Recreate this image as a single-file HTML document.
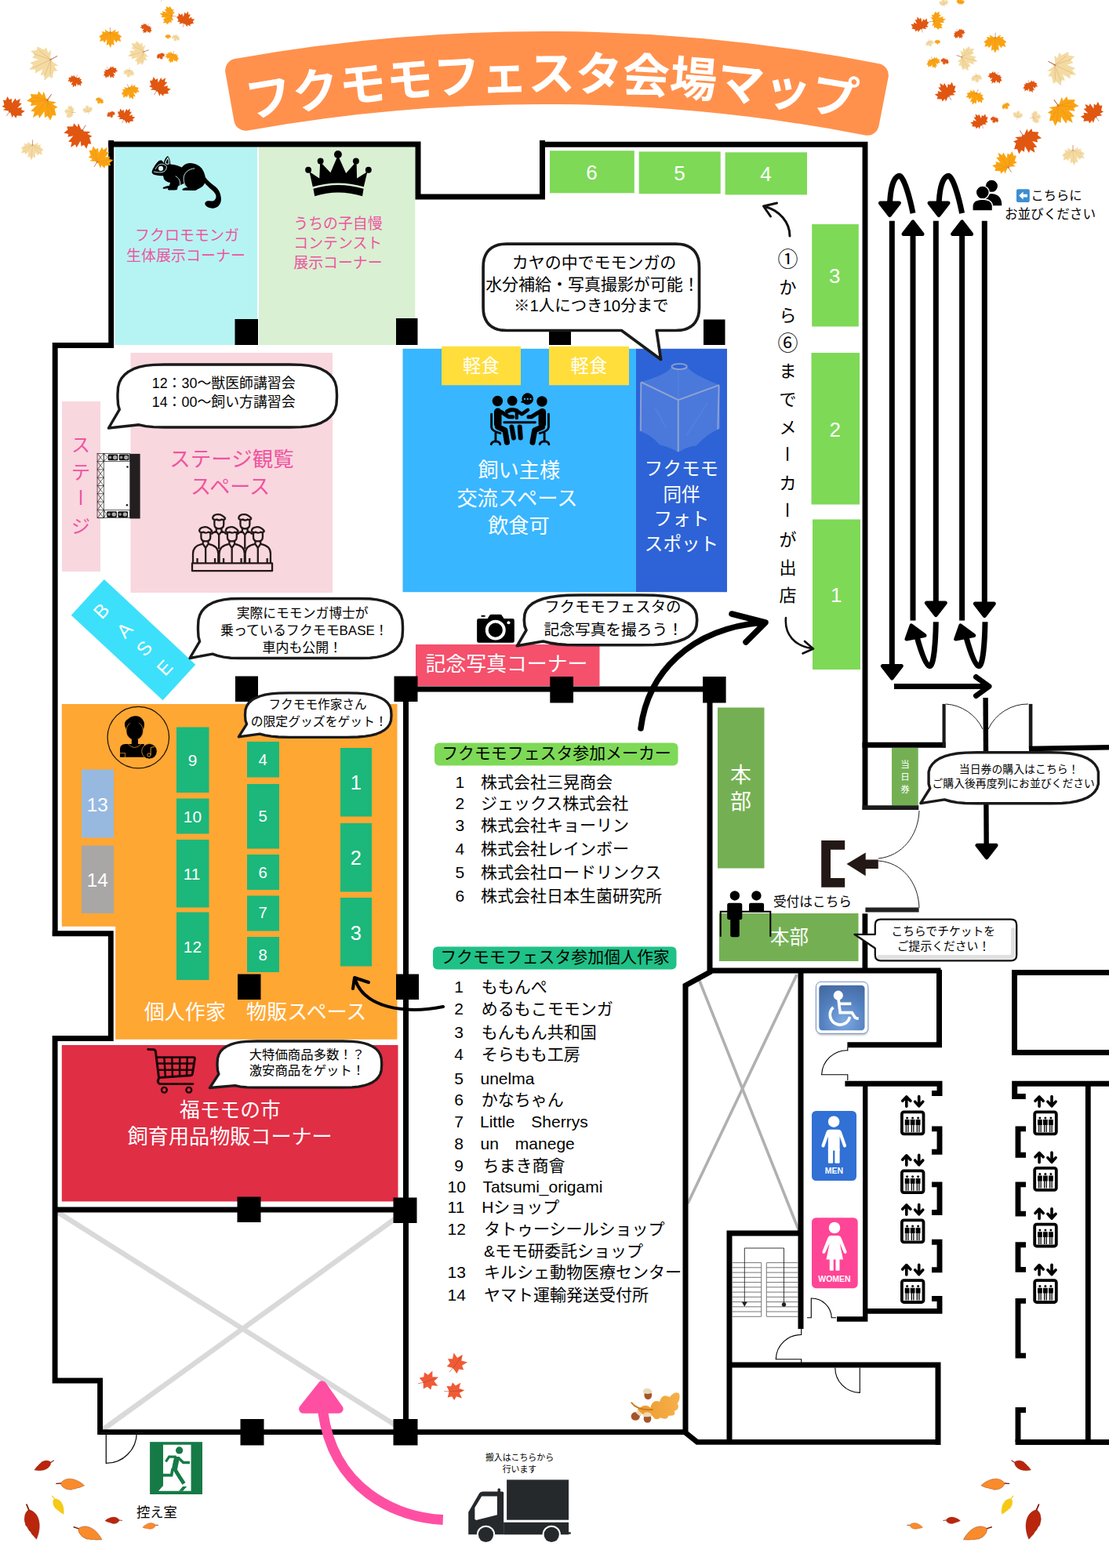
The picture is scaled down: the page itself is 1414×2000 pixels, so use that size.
<!DOCTYPE html>
<html lang="ja"><head><meta charset="utf-8"><title>フクモモフェスタ会場マップ</title>
<style>
html,body{margin:0;padding:0;background:#fff;font-family:"Liberation Sans","Noto Sans CJK JP",sans-serif;}
svg{display:block}
svg text{font-family:"Liberation Sans","Noto Sans CJK JP",sans-serif;}
</style></head><body>
<svg width="1414" height="2000" viewBox="0 0 1414 2000">
<rect width="1414" height="2000" fill="#fff"/><path transform="rotate(0.35 707 88)" d="M302.16 92.22 A2220 2220 0 0 1 1117.92 93.36 L1106.26 155.27 A2157 2157 0 0 0 313.65 154.17 Z" fill="#ff914d" stroke="#ff914d" stroke-width="30" stroke-linejoin="round"/><rect x="146.5" y="187" width="181.5" height="253" fill="#b6f4f4"/><rect x="330" y="187" width="199.3" height="253" fill="#d9f0d3"/><rect x="79" y="512" width="49" height="217" fill="#f9d7df"/><rect x="166.5" y="450" width="257.5" height="306" fill="#f9d7df"/><rect x="513.5" y="444.8" width="297.5" height="310.4" fill="#38b6ff"/><rect x="811" y="444.8" width="116" height="310.4" fill="#2d63d6"/><rect x="563" y="441.8" width="101" height="49.5" fill="#ffde3b"/><rect x="700" y="441.8" width="102" height="49.5" fill="#ffde3b"/><polygon points="132.8,738.9 249.3,847.7 207.6,893.2 90.8,784.7" fill="#3ce0fa"/><rect x="530" y="822" width="234.5" height="53" fill="#f5506c"/><path d="M78.8 898H506.5V1325.8H147.2V1181.7H78.8Z" fill="#ffa733"/><rect x="78.8" y="1333" width="428.7" height="199.5" fill="#e02e44"/><rect x="225" y="927.5" width="41.5" height="83.5" fill="#1cb77b"/><rect x="225" y="1018.5" width="41.5" height="45" fill="#1cb77b"/><rect x="225" y="1071" width="41.5" height="86.5" fill="#1cb77b"/><rect x="225" y="1163.5" width="41.5" height="86.5" fill="#1cb77b"/><rect x="315" y="946" width="41" height="45.5" fill="#1cb77b"/><rect x="315" y="1000" width="41" height="82.5" fill="#1cb77b"/><rect x="315" y="1090" width="41" height="45" fill="#1cb77b"/><rect x="315" y="1142.5" width="41" height="45" fill="#1cb77b"/><rect x="315" y="1195" width="41" height="45" fill="#1cb77b"/><rect x="434" y="954" width="40" height="87.5" fill="#1cb77b"/><rect x="434" y="1050" width="40" height="87.5" fill="#1cb77b"/><rect x="434" y="1145" width="40" height="87.5" fill="#1cb77b"/><rect x="104" y="981.5" width="41" height="87" fill="#97b9df"/><rect x="104" y="1078.5" width="41" height="86.5" fill="#a9a6a6"/><rect x="701" y="192.2" width="107.8" height="54.1" fill="#7ed957"/><rect x="814.7" y="193.4" width="104" height="53.8" fill="#7ed957"/><rect x="924.6" y="194.3" width="104.4" height="54.1" fill="#7ed957"/><rect x="1035.2" y="286" width="59.6" height="130.5" fill="#7ed957"/><rect x="1034.5" y="450" width="61.5" height="193.5" fill="#7ed957"/><rect x="1036" y="662.5" width="61" height="191.5" fill="#7ed957"/><rect x="915" y="902.5" width="59.5" height="205" fill="#74b053"/><rect x="917" y="1165" width="177.5" height="61" fill="#74b053"/><rect x="1137" y="953.8" width="33.7" height="73.5" fill="#74b053"/><rect x="554" y="947.5" width="310.5" height="29" rx="6" fill="#7ed957"/><rect x="552" y="1207.5" width="310.5" height="29" rx="6" fill="#1fc187"/><path d="M74 1546.5 L514 1824" fill="none" stroke="#d9d9d9" stroke-width="6.5" stroke-linecap="butt" stroke-linejoin="miter"/><path d="M514 1547 L131 1823.5" fill="none" stroke="#d9d9d9" stroke-width="6.5" stroke-linecap="butt" stroke-linejoin="miter"/><path d="M889.5 1245 L1019.5 1572" fill="none" stroke="#b0b0b0" stroke-width="3.6" stroke-linecap="butt" stroke-linejoin="miter"/><path d="M1016 1243 L877 1535" fill="none" stroke="#b0b0b0" stroke-width="3.6" stroke-linecap="butt" stroke-linejoin="miter"/><path d="M70.2 1194 L70.2 440.5 L141.7 440.5 L141.7 179" fill="none" stroke="#000" stroke-width="6.9" stroke-linecap="butt" stroke-linejoin="miter"/><path d="M138.3 184 L533 184 L533 251 L691.5 251 L691.5 179" fill="none" stroke="#000" stroke-width="7" stroke-linecap="butt" stroke-linejoin="miter"/><path d="M688 184.2 L1103 184.2 L1103 1033" fill="none" stroke="#000" stroke-width="6.9" stroke-linecap="butt" stroke-linejoin="miter"/><path d="M66.8 1190.7 L141.3 1190.7 L141.3 1324.5 L70.1 1324.5 L70.1 1761 L127.6 1761 L127.6 1826.6 L873 1826.6 L889 1839.4 L1197 1839.4" fill="none" stroke="#000" stroke-width="6.9" stroke-linecap="butt" stroke-linejoin="miter"/><path d="M73 1543 L517 1543" fill="none" stroke="#000" stroke-width="6.9" stroke-linecap="butt" stroke-linejoin="miter"/><path d="M517.5 880 L517.5 1827" fill="none" stroke="#000" stroke-width="7" stroke-linecap="butt" stroke-linejoin="miter"/><path d="M517 879 L905 879" fill="none" stroke="#000" stroke-width="7" stroke-linecap="butt" stroke-linejoin="miter"/><path d="M905 879 L905 1240 L874 1257 L874 1830" fill="none" stroke="#000" stroke-width="7" stroke-linecap="butt" stroke-linejoin="miter"/><path d="M903 1238 L1199.5 1238" fill="none" stroke="#000" stroke-width="7.2" stroke-linecap="butt" stroke-linejoin="miter"/><path d="M1099.5 950.3 L1205.7 950.3" fill="none" stroke="#000" stroke-width="6.9" stroke-linecap="butt" stroke-linejoin="miter"/><path d="M1203.6 897.9 L1203.6 953.8" fill="none" stroke="#1a1a1a" stroke-width="4.2" stroke-linecap="butt" stroke-linejoin="miter"/><path d="M1314.1 897.9 L1314.1 955.6" fill="none" stroke="#1a1a1a" stroke-width="4.6" stroke-linecap="butt" stroke-linejoin="miter"/><path d="M1312 955 L1414 953.2" fill="none" stroke="#000" stroke-width="6.6" stroke-linecap="butt" stroke-linejoin="miter"/><path d="M1099.5 1030.2 L1171.3 1030.2" fill="none" stroke="#1c1c1c" stroke-width="5.8" stroke-linecap="butt" stroke-linejoin="miter"/><path d="M1103.4 1160.6 L1171.6 1160.6" fill="none" stroke="#222" stroke-width="6" stroke-linecap="butt" stroke-linejoin="miter"/><path d="M1102.9 1165.3 L1102.9 1240" fill="none" stroke="#000" stroke-width="6.8" stroke-linecap="butt" stroke-linejoin="miter"/><path d="M1021 1240 L1021 1695" fill="none" stroke="#000" stroke-width="7" stroke-linecap="butt" stroke-linejoin="miter"/><path d="M1197.5 1237 L1197.5 1332.8 L1080.4 1332.8" fill="none" stroke="#000" stroke-width="7" stroke-linecap="butt" stroke-linejoin="miter"/><path d="M1077.4 1382.3 L1198 1382.3 L1198 1394.5 L1188 1394.5" fill="none" stroke="#000" stroke-width="7" stroke-linecap="butt" stroke-linejoin="miter"/><path d="M1103.2 1382 L1103.2 1682.5 L1067 1682.5" fill="none" stroke="#000" stroke-width="6.4" stroke-linecap="butt" stroke-linejoin="miter"/><path d="M1103 1672.4 L1198 1672.4 L1198 1656.5 L1188 1656.5" fill="none" stroke="#000" stroke-width="6.9" stroke-linecap="butt" stroke-linejoin="miter"/><path d="M1188 1439.9 L1198 1439.9 L1198 1469.3 L1188 1469.3" fill="none" stroke="#000" stroke-width="6.9" stroke-linecap="butt" stroke-linejoin="miter"/><path d="M1188 1510.9 L1198 1510.9 L1198 1546.5 L1188 1546.5" fill="none" stroke="#000" stroke-width="6.9" stroke-linecap="butt" stroke-linejoin="miter"/><path d="M1188 1584.2 L1198 1584.2 L1198 1619.8 L1188 1619.8" fill="none" stroke="#000" stroke-width="6.9" stroke-linecap="butt" stroke-linejoin="miter"/><path d="M1414 1382.3 L1293.7 1382.3 L1293.7 1398.6 L1307.8 1398.6" fill="none" stroke="#000" stroke-width="7" stroke-linecap="butt" stroke-linejoin="miter"/><path d="M1308 1439.9 L1298 1439.9 L1298 1473.2 L1308 1473.2" fill="none" stroke="#000" stroke-width="6.9" stroke-linecap="butt" stroke-linejoin="miter"/><path d="M1308 1510.9 L1298 1510.9 L1298 1548.1 L1308 1548.1" fill="none" stroke="#000" stroke-width="6.9" stroke-linecap="butt" stroke-linejoin="miter"/><path d="M1308 1587.7 L1298 1587.7 L1298 1619.4 L1308 1619.4" fill="none" stroke="#000" stroke-width="6.9" stroke-linecap="butt" stroke-linejoin="miter"/><path d="M1308 1659.4 L1298 1659.4 L1298 1729.1 L1308 1729.1" fill="none" stroke="#000" stroke-width="6.9" stroke-linecap="butt" stroke-linejoin="miter"/><path d="M1308 1798.5 L1298 1798.5 L1298 1839.5" fill="none" stroke="#000" stroke-width="6.9" stroke-linecap="butt" stroke-linejoin="miter"/><path d="M1294.6 1839.5 L1414 1839.5" fill="none" stroke="#000" stroke-width="7" stroke-linecap="butt" stroke-linejoin="miter"/><path d="M1387.3 1382 L1387.3 1843" fill="none" stroke="#000" stroke-width="6.8" stroke-linecap="butt" stroke-linejoin="miter"/><path d="M1414 1240.5 L1293.5 1240.5 L1293.5 1342.5 L1414 1342.5" fill="none" stroke="#000" stroke-width="7" stroke-linecap="butt" stroke-linejoin="miter"/><path d="M1021 1573 L930 1573 L930 1839.5" fill="none" stroke="#000" stroke-width="7" stroke-linecap="butt" stroke-linejoin="miter"/><path d="M927 1741 L1196 1741 L1196 1843" fill="none" stroke="#000" stroke-width="7" stroke-linecap="butt" stroke-linejoin="miter"/><path d="M1137.3 281.7 L1137.3 850" fill="none" stroke="#000" stroke-width="7" stroke-linecap="butt" stroke-linejoin="miter"/><path d="M1125.3 849.5L1149.3 849.5L1137.3 865Z" fill="#000" stroke="#000" stroke-width="5" stroke-linejoin="round"/><path d="M1164 295 L1164 791.5" fill="none" stroke="#000" stroke-width="7" stroke-linecap="butt" stroke-linejoin="miter"/><path d="M1152 298.5L1176 298.5L1164 283Z" fill="#000" stroke="#000" stroke-width="5" stroke-linejoin="round"/><path d="M1193.3 281.7 L1193.3 770" fill="none" stroke="#000" stroke-width="7" stroke-linecap="butt" stroke-linejoin="miter"/><path d="M1181.3 769L1205.3 769L1193.3 784.5Z" fill="#000" stroke="#000" stroke-width="5" stroke-linejoin="round"/><path d="M1226.6 295 L1226.6 791.5" fill="none" stroke="#000" stroke-width="7" stroke-linecap="butt" stroke-linejoin="miter"/><path d="M1214.6 298.5L1238.6 298.5L1226.6 283Z" fill="#000" stroke="#000" stroke-width="5" stroke-linejoin="round"/><path d="M1255.3 281.7 L1255.3 770" fill="none" stroke="#000" stroke-width="7" stroke-linecap="butt" stroke-linejoin="miter"/><path d="M1243.3 770L1267.3 770L1255.3 785.5Z" fill="#000" stroke="#000" stroke-width="5" stroke-linejoin="round"/><path d="M1164 272 C1160 252 1152 222 1145.5 224.5 C1139 227 1135.5 240 1134.6 258" fill="none" stroke="#000" stroke-width="7"/><path d="M1122.4 259L1146.4 259L1134.4 274.5Z" fill="#000" stroke="#000" stroke-width="5" stroke-linejoin="round"/><path d="M1226.6 272 C1222.6 252 1214.6 222 1208.1 224.5 C1201.6 227 1198.1 240 1197.2 258" fill="none" stroke="#000" stroke-width="7"/><path d="M1185 259L1209 259L1197 274.5Z" fill="#000" stroke="#000" stroke-width="5" stroke-linejoin="round"/><path d="M1193.3 793.3 C1193 815 1191 851 1185 849.5 C1180 848 1174 830 1169 812" fill="none" stroke="#000" stroke-width="7"/><path d="M1162 798L1156 815L1179 810.5Z" fill="#000" stroke="#000" stroke-width="5" stroke-linejoin="round"/><path d="M1256 793.3 C1255.7 815 1253.7 851 1247.7 849.5 C1242.7 848 1236.7 830 1231.7 812" fill="none" stroke="#000" stroke-width="7"/><path d="M1224.7 798L1218.7 815L1241.7 810.5Z" fill="#000" stroke="#000" stroke-width="5" stroke-linejoin="round"/><path d="M1140 875.5H1260" fill="none" stroke="#000" stroke-width="7"/><path d="M1244.5 863.5L1261 875.5L1244.5 887.5" fill="none" stroke="#000" stroke-width="7" stroke-linecap="round" stroke-linejoin="round"/><path d="M1256.6 890 L1257.7 1080" fill="none" stroke="#000" stroke-width="6.4" stroke-linecap="butt" stroke-linejoin="miter"/><path d="M1246 1078.3L1270 1078.3L1258 1093.8Z" fill="#000" stroke="#000" stroke-width="5" stroke-linejoin="round"/><path d="M1206 898A56 56 0 0 1 1253 930" fill="none" stroke="#222" stroke-width="1"/><path d="M1311 898A56 56 0 0 0 1260 930" fill="none" stroke="#222" stroke-width="1"/><path d="M817 929C826 858 880 802 972 794M933 783L976 794L951 819" fill="none" stroke="#000" stroke-width="7.5" stroke-linecap="round" stroke-linejoin="round"/><path d="M1007 301C1007 284 994 268 975 263.5M990.5 259L973.5 263L982.5 276" fill="none" stroke="#111" stroke-width="3" stroke-linecap="round" stroke-linejoin="round"/><path d="M1002 788C1000 810 1014 824 1035 827M1026 818L1037 827.5L1023.5 833.5" fill="none" stroke="#111" stroke-width="2.6" stroke-linecap="round" stroke-linejoin="round"/><path d="M565 1284C515 1294 465 1285 453 1250M450 1261L452 1247L470 1253" fill="none" stroke="#000" stroke-width="4" stroke-linecap="round" stroke-linejoin="round"/><path d="M564.8 1938.4C505 1936 425 1900 411.6 1800" fill="none" stroke="#ff4fa3" stroke-width="13"/><path d="M410.7 1766.8L386.6 1797.2L432.2 1797.2Z" fill="#ff4fa3" stroke="#ff4fa3" stroke-width="11" stroke-linejoin="round"/><path d="M1077.2 1077.9H1053.1V1125.8H1077.2" fill="none" stroke="#231815" stroke-width="11.8"/><path d="M1079.5 1102L1103.7 1087.4V1096.5H1119.8V1108H1103.7V1117.2Z" fill="#231815"/><path d="M1172 1034C1171 1066 1150 1092 1120 1095" fill="none" stroke="#222" stroke-width="1"/><path d="M1120 1098C1150 1100 1171 1125 1172 1158" fill="none" stroke="#222" stroke-width="1"/><rect x="299.5" y="407" width="29.5" height="33" fill="#000"/><rect x="505" y="406" width="27.5" height="34" fill="#000"/><rect x="700" y="421" width="28" height="19" fill="#000"/><rect x="897" y="407.5" width="27.5" height="32.5" fill="#000"/><rect x="300" y="862.5" width="29" height="32.5" fill="#000"/><rect x="502.5" y="862.5" width="30" height="32.5" fill="#000"/><rect x="701.3" y="863" width="29.7" height="33.5" fill="#000"/><rect x="896.1" y="863" width="29.5" height="33.5" fill="#000"/><rect x="303" y="1242.5" width="29.5" height="32.5" fill="#000"/><rect x="505" y="1242.5" width="29" height="32.5" fill="#000"/><rect x="302.5" y="1526.5" width="30" height="32.5" fill="#000"/><rect x="501.5" y="1527.5" width="30" height="32.5" fill="#000"/><rect x="306.5" y="1810" width="30" height="33.5" fill="#000"/><rect x="501.5" y="1810" width="31" height="33.5" fill="#000"/><path d="M152.3 522.4L150.6 516.1L150.0 507.0L150.0 503.0L150.6 493.9L152.3 487.6L155.1 482.3L159.0 477.8L164.0 473.9L170.1 470.7L177.3 468.2L185.7 466.4L195.6 465.4L210.0 465.0L369.5 465.0L383.9 465.4L393.8 466.4L402.2 468.2L409.4 470.7L415.5 473.9L420.5 477.8L424.4 482.3L427.2 487.6L428.9 493.9L429.5 503.0L429.5 507.0L428.9 516.1L427.2 522.4L424.4 527.7L420.5 532.2L415.5 536.1L409.4 539.3L402.2 541.8L393.8 543.6L383.9 544.6L369.5 545.0L210.0 545.0L195.6 544.6L185.7 543.6L177.3 541.8L138.5 546.0Z" fill="#fff" stroke="#1a1a1a" stroke-width="3.4" stroke-linejoin="round"/><path d="M254.6 818.1L253.0 812.1L252.5 803.5L252.5 799.5L253.0 790.9L254.6 784.9L257.2 779.9L260.8 775.6L265.4 771.9L271.0 768.9L277.5 766.6L285.2 764.9L294.3 763.8L307.5 763.5L458.5 763.5L471.7 763.8L480.8 764.9L488.5 766.6L495.0 768.9L500.6 771.9L505.2 775.6L508.8 779.9L511.4 784.9L513.0 790.9L513.5 799.5L513.5 803.5L513.0 812.1L511.4 818.1L508.8 823.1L505.2 827.4L500.6 831.1L495.0 834.1L488.5 836.4L480.8 838.1L471.7 839.2L458.5 839.5L307.5 839.5L294.3 839.2L285.2 838.1L277.5 836.4L271.0 834.1L242.0 839.5Z" fill="#fff" stroke="#1a1a1a" stroke-width="3.4" stroke-linejoin="round"/><path d="M792.4 421.5L646.1 421.5L639.7 421.2L634.8 420.3L630.6 418.7L626.8 416.6L623.6 414.0L621.0 410.8L618.9 407.0L617.3 402.8L616.4 397.9L616.1 391.5L616.1 341.2L616.4 334.8L617.3 329.9L618.9 325.7L621.0 321.9L623.6 318.7L626.8 316.1L630.6 314.0L634.8 312.4L639.7 311.5L646.1 311.2L861.5 311.2L867.9 311.5L872.8 312.4L877.0 314.0L880.8 316.1L884.0 318.7L886.6 321.9L888.7 325.7L890.3 329.9L891.2 334.8L891.5 341.2L891.5 391.5L891.2 397.9L890.3 402.8L888.7 407.0L886.6 410.8L884.0 414.0L880.8 416.6L877.0 418.7L872.8 420.3L867.9 421.2L861.5 421.5L837.1 421.5L842.6 458.5Z" fill="#fff" stroke="#1a1a1a" stroke-width="3.7" stroke-linejoin="round"/><path d="M671.0 803.8L669.0 798.5L668.3 790.8L668.3 791.0L669.0 783.3L671.0 778.0L674.4 773.6L679.1 769.7L685.1 766.5L692.5 763.8L701.1 761.7L711.1 760.2L723.0 759.3L740.3 759.0L816.7 759.0L834.0 759.3L845.9 760.2L855.9 761.7L864.5 763.8L871.9 766.5L877.9 769.7L882.6 773.6L886.0 778.0L888.0 783.3L888.7 791.0L888.7 790.8L888.0 798.5L886.0 803.8L882.6 808.2L877.9 812.1L871.9 815.3L864.5 818.0L855.9 820.1L845.9 821.6L834.0 822.5L816.7 822.8L740.3 822.8L723.0 822.5L711.1 821.6L701.1 820.1L692.5 818.0L659.3 823.8Z" fill="#fff" stroke="#1a1a1a" stroke-width="3.6" stroke-linejoin="round"/><path d="M314.6 923.6L313.0 919.0L312.5 912.3L312.5 911.8L313.0 905.1L314.6 900.5L317.3 896.5L320.9 893.2L325.6 890.4L331.3 888.0L338.0 886.2L345.8 884.9L355.1 884.1L368.5 883.8L443.0 883.8L456.4 884.1L465.7 884.9L473.5 886.2L480.2 888.0L485.9 890.4L490.6 893.2L494.2 896.5L496.9 900.5L498.5 905.1L499.0 911.8L499.0 912.3L498.5 919.0L496.9 923.6L494.2 927.6L490.6 930.9L485.9 933.7L480.2 936.1L473.5 937.9L465.7 939.2L456.4 940.0L443.0 940.3L368.5 940.3L355.1 940.0L345.8 939.2L338.0 937.9L331.3 936.1L304.3 939.8Z" fill="#fff" stroke="#1a1a1a" stroke-width="3.3" stroke-linejoin="round"/><path d="M278.9 1370.0L277.5 1365.2L277.0 1358.2L277.0 1357.0L277.5 1350.0L278.9 1345.2L281.2 1341.2L284.5 1337.7L288.7 1334.8L293.8 1332.4L299.8 1330.5L306.7 1329.1L315.0 1328.3L327.0 1328.0L436.7 1328.0L448.7 1328.3L457.0 1329.1L463.9 1330.5L469.9 1332.4L475.0 1334.8L479.2 1337.7L482.5 1341.2L484.8 1345.2L486.2 1350.0L486.7 1357.0L486.7 1358.2L486.2 1365.2L484.8 1370.0L482.5 1374.0L479.2 1377.5L475.0 1380.4L469.9 1382.8L463.9 1384.7L457.0 1386.1L448.7 1386.9L436.7 1387.2L327.0 1387.2L315.0 1386.9L306.7 1386.1L299.8 1384.7L267.5 1387.5Z" fill="#fff" stroke="#1a1a1a" stroke-width="3.3" stroke-linejoin="round"/><path d="M1185.8 1005.5L1184.1 1000.1L1184.1 984.5L1185.8 979.1L1188.8 974.6L1192.8 970.7L1198.0 967.4L1204.3 964.7L1211.7 962.6L1220.4 961.0L1230.6 960.1L1245.5 959.8L1339.0 959.8L1353.9 960.1L1364.1 961.0L1372.8 962.6L1380.2 964.7L1386.5 967.4L1391.7 970.7L1395.7 974.6L1398.7 979.1L1400.4 984.5L1400.4 1000.1L1398.7 1005.5L1395.7 1010.0L1391.7 1013.9L1386.5 1017.2L1380.2 1019.9L1372.8 1022.0L1364.1 1023.6L1353.9 1024.5L1339.0 1024.8L1245.5 1024.8L1230.6 1024.5L1220.4 1023.6L1211.7 1022.0L1204.3 1019.9L1173.8 1024.6Z" fill="#fff" stroke="#1a1a1a" stroke-width="3.4" stroke-linejoin="round"/><path d="M1123 1172.7H1289Q1296.2 1172.7 1296.2 1180V1218Q1296.2 1225.4 1289 1225.4H1123Q1115.8 1225.4 1115.8 1218V1209.5L1089.5 1191.8H1115.8V1180Q1115.8 1172.7 1123 1172.7Z" fill="#fff"/><path d="M1121 1220.8H1287Q1291.8 1220.8 1291.8 1216V1186" fill="none" stroke="#e1e1e1" stroke-width="5.5" stroke-linecap="round"/><path d="M1123 1172.7H1289Q1296.2 1172.7 1296.2 1180V1218Q1296.2 1225.4 1289 1225.4H1123Q1115.8 1225.4 1115.8 1218V1209.5L1089.5 1191.8H1115.8V1180Q1115.8 1172.7 1123 1172.7Z" fill="none" stroke="#111" stroke-width="2.3" stroke-linejoin="round"/><g fill="#fff" font-size="60" font-weight="bold" text-anchor="middle"><text transform="translate(342.51,123.15) rotate(-9.61)" x="0" y="22.8">フ</text><text transform="translate(402.19,113.89) rotate(-8.03)" x="0" y="22.8">ク</text><text transform="translate(462.11,106.28) rotate(-6.44)" x="0" y="22.8">モ</text><text transform="translate(522.21,100.34) rotate(-4.86)" x="0" y="22.8">モ</text><text transform="translate(582.46,96.06) rotate(-3.27)" x="0" y="22.8">フ</text><text transform="translate(642.8,93.44) rotate(-1.69)" x="0" y="22.8">ェ</text><text transform="translate(703.19,92.5) rotate(-0.1)" x="0" y="22.8">ス</text><text transform="translate(763.58,93.23) rotate(1.49)" x="0" y="22.8">タ</text><text transform="translate(823.93,95.63) rotate(3.07)" x="0" y="22.8">会</text><text transform="translate(884.2,99.71) rotate(4.66)" x="0" y="22.8">場</text><text transform="translate(944.32,105.44) rotate(6.24)" x="0" y="22.8">マ</text><text transform="translate(1004.26,112.84) rotate(7.83)" x="0" y="22.8">ッ</text><text transform="translate(1063.98,121.89) rotate(9.41)" x="0" y="22.8">プ</text></g><text x="172" y="306.53" font-size="19" fill="#ee559f">フクロモモンガ</text><text x="161" y="333.03" font-size="19" fill="#ee559f">生体展示コーナー</text><text x="374.3" y="292.49" font-size="18.9" fill="#ee559f">うちの子自慢</text><text x="374.3" y="316.99" font-size="18.9" fill="#ee559f">コンテンスト</text><text x="374.3" y="342.49" font-size="18.9" fill="#ee559f">展示コーナー</text><text x="193.73" y="495.42" font-size="17.9" fill="#000">12：30～獣医師講習会</text><text x="193.73" y="519.22" font-size="17.9" fill="#000">14：00～飼い方講習会</text><text x="216.3" y="594.9" font-size="26.5" fill="#ee559f">ステージ観覧</text><text x="243.05" y="629.64" font-size="26.05" fill="#ee559f">スペース</text><g fill="#ee559f" font-size="24"><text x="91" y="576.12">ス</text><text x="91" y="610.62">テ</text><text transform="translate(103,634.5) rotate(90)" x="0" y="9" text-anchor="middle">ー</text><text x="91" y="679.62">ジ</text></g><text transform="rotate(-47 129 779)" x="120.83" y="787.8" font-size="24.5" fill="#fff">B</text><text transform="rotate(-47 158.3 803.8)" x="150.68" y="812.6" font-size="24.5" fill="#fff">A</text><text transform="rotate(-47 183.1 827.4)" x="175.65" y="836.2" font-size="24.5" fill="#fff">S</text><text transform="rotate(-47 209.2 852.2)" x="201.85" y="861" font-size="24.5" fill="#fff">E</text><text x="590.1" y="475.16" font-size="23.4" fill="#fff">軽食</text><text x="727.6" y="475.16" font-size="23.4" fill="#fff">軽食</text><text x="609.4" y="609.19" font-size="26.2" fill="#fff">飼い主様</text><text x="582.4" y="645.19" font-size="26.2" fill="#fff">交流スペース</text><text x="622.2" y="680.19" font-size="26.2" fill="#fff">飲食可</text><text x="821.8" y="606.23" font-size="23.6" fill="#fff">フクモモ</text><text x="845.4" y="638.73" font-size="23.6" fill="#fff">同伴</text><text x="833.6" y="670.23" font-size="23.6" fill="#fff">フォト</text><text x="821.8" y="702.23" font-size="23.6" fill="#fff">スポット</text><text x="652.79" y="341.75" font-size="20.96" fill="#000">カヤの中でモモンガの</text><text x="619.17" y="369.76" font-size="20.98" fill="#000">水分補給・写真撮影が可能！</text><text x="655.05" y="397.26" font-size="20.43" fill="#000">※1人につき10分まで</text><g fill="#000" font-size="22"><text x="993.5" y="374.11">か</text><text x="993.5" y="409.86">ら</text><text x="993.5" y="481.36">ま</text><text x="993.5" y="517.11">で</text><text x="993.5" y="552.86">メ</text><text transform="translate(1004.5,579) rotate(90)" x="0" y="8.4" text-anchor="middle">ー</text><text x="993.5" y="624.36">カ</text><text transform="translate(1004.5,650.5) rotate(90)" x="0" y="8.4" text-anchor="middle">ー</text><text x="993.5" y="695.86">が</text><text x="993.5" y="731.61">出</text><text x="993.5" y="767.36">店</text></g><g fill="#000" font-size="26"><text x="991.5" y="339.88">①</text><text x="991.5" y="447.13">⑥</text></g><text x="747.29" y="228.92" font-size="26" fill="#fff">6</text><text x="859.29" y="229.62" font-size="26" fill="#fff">5</text><text x="969.19" y="230.92" font-size="26" fill="#fff">4</text><text x="1057.09" y="360.62" font-size="26" fill="#fff">3</text><text x="1057.59" y="556.62" font-size="26" fill="#fff">2</text><text x="1059.09" y="767.62" font-size="26" fill="#fff">1</text><text x="542.4" y="856.08" font-size="25.9" fill="#fff">記念写真コーナー</text><text x="694.18" y="781.46" font-size="19.37" fill="#000">フクモモフェスタの</text><text x="693.51" y="809.6" font-size="19.73" fill="#000">記念写真を撮ろう！</text><text x="301.73" y="787.52" font-size="16.8" fill="#000">実際にモモンガ博士が</text><text x="280.99" y="809.67" font-size="16.94" fill="#000">乗っているフクモモBASE！</text><text x="334.54" y="831.97" font-size="16.96" fill="#000">車内も公開！</text><text x="342.44" y="904.09" font-size="15.66" fill="#000">フクモモ作家さん</text><text x="319.69" y="925.56" font-size="15.83" fill="#000">の限定グッズをゲット！</text><text x="239.74" y="977.03" font-size="20.9" fill="#fff">9</text><text x="233.79" y="1048.73" font-size="20.9" fill="#fff">10</text><text x="233.79" y="1122.03" font-size="20.9" fill="#fff">11</text><text x="233.79" y="1214.53" font-size="20.9" fill="#fff">12</text><text x="329.61" y="976.31" font-size="20.3" fill="#fff">4</text><text x="329.61" y="1047.51" font-size="20.3" fill="#fff">5</text><text x="329.61" y="1120.11" font-size="20.3" fill="#fff">6</text><text x="329.61" y="1171.31" font-size="20.3" fill="#fff">7</text><text x="329.61" y="1224.91" font-size="20.3" fill="#fff">8</text><text x="446.86" y="1007.2" font-size="25.4" fill="#fff">1</text><text x="446.86" y="1102.9" font-size="25.4" fill="#fff">2</text><text x="446.86" y="1198.7" font-size="25.4" fill="#fff">3</text><text x="110.65" y="1035.29" font-size="24.3" fill="#fff">13</text><text x="110.65" y="1130.99" font-size="24.3" fill="#fff">14</text><text x="183.71" y="1299.65" font-size="26.09" fill="#fff">個人作家　物販スペース</text><text x="228.95" y="1424.83" font-size="25.75" fill="#fff">福モモの市</text><text x="162.78" y="1459.16" font-size="26.1" fill="#fff">飼育用品物販コーナー</text><text x="317.7" y="1351.07" font-size="16.4" fill="#000">大特価商品多数！？</text><text x="317.7" y="1371.07" font-size="16.4" fill="#000">激安商品をゲット！</text><text x="563.2" y="967.73" font-size="20.9" fill="#000">フクモモフェスタ参加メーカー</text><text x="561.2" y="1227.73" font-size="20.9" fill="#000">フクモモフェスタ参加個人作家</text><g fill="#000" font-size="21"><text x="580.38" y="1005.27">1</text><text x="613" y="1005.27">株式会社三晃商会</text><text x="580.38" y="1031.77">2</text><text x="613" y="1031.77">ジェックス株式会社</text><text x="580.38" y="1060.27">3</text><text x="613" y="1060.27">株式会社キョーリン</text><text x="580.38" y="1090.27">4</text><text x="613" y="1090.27">株式会社レインボー</text><text x="580.38" y="1120.27">5</text><text x="613" y="1120.27">株式会社ロードリンクス</text><text x="580.38" y="1150.27">6</text><text x="613" y="1150.27">株式会社日本生菌研究所</text><text x="579.31" y="1265.97">1</text><text x="613.8" y="1265.97">ももんぺ</text><text x="579.31" y="1294.47">2</text><text x="613.8" y="1294.47">めるもこモモンガ</text><text x="579.31" y="1323.77">3</text><text x="613.8" y="1323.77">もんもん共和国</text><text x="579.31" y="1351.77">4</text><text x="613.8" y="1351.77">そらもも工房</text><text x="579.31" y="1383.07">5</text><text x="612.5" y="1383.07">unelma</text><text x="579.31" y="1409.57">6</text><text x="613.8" y="1409.57">かなちゃん</text><text x="579.31" y="1438.37">7</text><text x="612" y="1438.37">Little　Sherrys</text><text x="579.31" y="1466.37">8</text><text x="612.5" y="1466.37">un　manege</text><text x="579.31" y="1494.37">9</text><text x="615.5" y="1494.37">ちまき商會</text><text x="570.53" y="1520.57">10</text><text x="615.5" y="1520.57">Tatsumi_origami</text><text x="570.53" y="1546.57">11</text><text x="614.2" y="1546.57">Hショップ</text><text x="570.53" y="1575.07">12</text><text x="617" y="1575.07">タトゥーシールショップ</text><text x="617" y="1602.57">&amp;モモ研委託ショップ</text><text x="570.53" y="1630.07">13</text><text x="617" y="1630.07">キルシェ動物医療センター</text><text x="570.53" y="1658.57">14</text><text x="617" y="1658.57">ヤマト運輸発送受付所</text></g><g fill="#fff" font-size="27"><text x="931" y="997.76">本</text><text x="931" y="1031.76">部</text></g><text x="982" y="1204.07" font-size="24.5" fill="#fff">本部</text><text x="985.9" y="1156.18" font-size="16.7" fill="#000">受付はこちら</text><g fill="#fff" font-size="11.5"><text x="1148.25" y="979.12">当</text><text x="1148.25" y="994.92">日</text><text x="1148.25" y="1010.72">券</text></g><text x="1222.78" y="986.04" font-size="13.9" fill="#000">当日券の購入はこちら！</text><text x="1188.51" y="1004.42" font-size="13.83" fill="#000">ご購入後再度列にお並びください</text><text x="1136.4" y="1192.98" font-size="14.8" fill="#000">こちらでチケットを</text><text x="1143.8" y="1211.98" font-size="14.8" fill="#000">ご提示ください！</text><text x="1314.5" y="254.53" font-size="16.3" fill="#000">こちらに</text><text x="1280.9" y="278.64" font-size="16.6" fill="#000">お並びください</text><text x="618.9" y="1862.53" font-size="10.9" fill="#000">搬入はこちらから</text><text x="640.7" y="1878.03" font-size="10.9" fill="#000">行います</text><text x="174.05" y="1935.4" font-size="17.3" fill="#000">控え室</text><g transform="translate(180,185) scale(0.08489)">
<path d="M160 400C170 360 200 300 250 250C262 238 282 228 300 228C318 236 330 255 340 272C345 225 370 180 400 165C425 190 440 240 438 288C500 290 560 310 610 335C640 295 680 272 730 270C800 268 870 300 910 350C940 390 955 440 965 485C1000 540 1060 580 1110 620C1160 660 1195 720 1200 800C1205 880 1160 945 1080 950C1030 953 985 935 965 905C950 880 960 850 990 842C1020 836 1050 850 1085 838C1125 820 1135 775 1115 735C1090 685 1010 640 955 570C940 610 900 645 840 668C830 680 810 683 790 682L630 680C612 678 615 662 630 655C650 645 670 640 688 636C670 620 650 600 640 575C620 590 590 605 560 612C545 630 545 650 540 672C500 680 450 680 410 676C395 670 398 655 410 648C380 655 350 660 330 655C318 648 325 638 338 632C365 622 395 612 425 610C425 595 430 580 438 565C400 560 360 540 345 515C335 495 335 475 330 462C290 462 240 458 200 448C178 440 160 425 160 400Z" fill="#000"/>
<circle cx="295" cy="352" r="36" fill="#d9fafa"/>
<path d="M400 192C385 215 365 250 362 270C375 285 400 290 418 280C420 250 412 215 400 192Z" fill="#000" stroke="#c9f7f7" stroke-width="13"/>
<path d="M800 352C720 355 650 410 640 480C632 540 650 600 690 640M520 470C560 490 590 530 585 600M190 400C230 410 300 420 340 400C370 385 385 350 380 320C370 300 340 285 300 285C260 290 235 320 215 360M240 185C250 200 265 215 285 225M200 290C215 265 235 245 260 230M180 340C195 305 215 275 245 250" fill="none" stroke="#c9f7f7" stroke-width="11" stroke-linecap="round"/>
</g><g transform="translate(380,185) scale(0.07072)">
<g fill="#000"><circle cx="720" cy="170" r="70"/><circle cx="405" cy="290" r="56"/><circle cx="1045" cy="290" r="56"/><circle cx="185" cy="450" r="56"/><circle cx="1270" cy="450" r="56"/>
<path d="M205 480L385 600L398 320L420 320L585 500L705 220L735 220L865 510L1030 320L1055 320L1062 600L1250 480L1185 752Q720 620 265 752Z"/>
<path d="M275 790Q720 650 1182 790L1160 922Q720 790 300 922Z"/></g>
</g><g transform="translate(610,490) scale(0.07072)">
<g fill="#000" stroke="none"><circle cx="345" cy="305" r="95"/><circle cx="610" cy="300" r="90"/><circle cx="1145" cy="310" r="95"/>
<path d="M885 160a105 105 0 1 1 -70 183L758 325L790 300A105 105 0 0 1 885 160Z"/></g>
<g fill="#38b6ff"><circle cx="835" cy="268" r="16"/><circle cx="888" cy="268" r="16"/><circle cx="940" cy="268" r="16"/></g>
<g fill="none" stroke="#000" stroke-linecap="round" stroke-linejoin="round">
<path d="M350 500V720" stroke-width="135"/><path d="M410 500L545 590H615" stroke-width="72"/><path d="M350 770L480 830L515 1050" stroke-width="100"/>
<path d="M1150 505V720" stroke-width="135"/><path d="M1090 505L955 590H905" stroke-width="72"/><path d="M1150 775L1015 830L975 1050" stroke-width="100"/>
<path d="M520 490Q600 440 690 480" stroke-width="75"/><path d="M690 500V610" stroke-width="60"/><path d="M690 480L785 540L890 465" stroke-width="65"/>
<path d="M600 770L635 970M745 770L760 970" stroke-width="85"/>
<path d="M465 690H1025" stroke-width="42"/>
<path d="M235 540V780Q245 850 395 885M310 880V1020M230 1085Q240 1035 310 1030Q385 1035 392 1085" stroke-width="40"/>
<path d="M1265 540V780Q1255 850 1105 885M1190 880V1020M1105 1085Q1115 1035 1190 1030Q1265 1035 1272 1085" stroke-width="40"/>
</g>
</g><g transform="translate(805,450) scale(0.09194)">
<path d="M560 195Q500 300 130 405L125 1090Q250 1120 400 1280Q520 1300 650 1380Q780 1300 900 1290Q1050 1120 1230 1050L1220 445Q850 300 770 195Q665 250 560 195Z" fill="#fff" fill-opacity="0.14"/>
<g fill="none" stroke="#b9bccb" stroke-opacity="0.62" stroke-width="22"><ellipse cx="665" cy="190" rx="105" ry="38"/>
<path d="M132 405L650 655L1220 447M650 655V1370M133 410L128 1085M1215 450L1200 1060"/></g>
<path d="M1060 690L760 1150M650 230V640M330 760L480 1040" fill="none" stroke="#fff" stroke-opacity="0.07" stroke-width="14"/>
</g><g transform="translate(115,565) scale(0.05658)"><rect x="310" y="420" width="580" height="1090" fill="#fff"/><rect x="890" y="245" width="235" height="1460" fill="#231f20"/><g fill="none" stroke="#1a1a1a" stroke-width="12"><rect x="160" y="235" width="145" height="1455"/><rect x="305" y="235" width="585" height="180"/><rect x="305" y="1510" width="585" height="180"/><path d="M160 235L305 417M305 235L160 417M160 417H305M160 417L305 599M305 417L160 599M160 599H305M160 599L305 781M305 599L160 781M160 781H305M160 781L305 963M305 781L160 963M160 963H305M160 963L305 1144M305 963L160 1144M160 1144H305M160 1144L305 1326M305 1144L160 1326M160 1326H305M160 1326L305 1508M305 1326L160 1508M160 1508H305M160 1508L305 1690M305 1508L160 1690M160 1690H305M305 235L390 325L305 415M305 1510L360 1600L305 1690"/></g><rect x="400" y="255" width="225" height="140" rx="25" fill="#111"/><circle cx="450" cy="325" r="32" fill="#999"/><circle cx="560" cy="325" r="48" fill="#aaa"/><rect x="650" y="255" width="225" height="140" rx="25" fill="#111"/><circle cx="700" cy="325" r="32" fill="#999"/><circle cx="810" cy="325" r="48" fill="#aaa"/><rect x="375" y="1540" width="225" height="140" rx="25" fill="#111"/><circle cx="425" cy="1610" r="32" fill="#999"/><circle cx="535" cy="1610" r="48" fill="#aaa"/><rect x="625" y="1540" width="225" height="140" rx="25" fill="#111"/><circle cx="675" cy="1610" r="32" fill="#999"/><circle cx="785" cy="1610" r="48" fill="#aaa"/><circle cx="840" cy="540" r="22" fill="#111"/><circle cx="830" cy="1400" r="22" fill="#111"/></g><g transform="translate(235,645) scale(0.08489)"><g fill="none" stroke="#231815" stroke-width="27" stroke-linejoin="round"><g transform="translate(320,0)"><path d="M-95 388Q-95 330 -30 322Q40 310 100 385M-95 388Q-60 412 -30 396Q0 420 40 396Q70 410 100 385M-68 405V470Q-68 535 0 535Q72 535 72 470V405M-40 535V575Q-190 600 -190 720V860M40 535V575Q190 600 190 720V860M-40 575L0 635L40 575M0 635V860M-125 790V860M140 790V860"/></g><g transform="translate(715,0)"><path d="M-95 388Q-95 330 -30 322Q40 310 100 385M-95 388Q-60 412 -30 396Q0 420 40 396Q70 410 100 385M-68 405V470Q-68 535 0 535Q72 535 72 470V405M-40 535V575Q-190 600 -190 720V860M40 535V575Q190 600 190 720V860M-40 575L0 635L40 575M0 635V860M-125 790V860M140 790V860"/></g><g transform="translate(1105,0)"><path d="M-95 388Q-95 330 -30 322Q40 310 100 385M-95 388Q-60 412 -30 396Q0 420 40 396Q70 410 100 385M-68 405V470Q-68 535 0 535Q72 535 72 470V405M-40 535V575Q-190 600 -190 720V860M40 535V575Q190 600 190 720V860M-40 575L0 635L40 575M0 635V860M-125 790V860M140 790V860"/></g><g transform="translate(520,0)"><path d="M-95 198Q-95 140 -30 132Q40 120 100 195M-95 198Q-60 222 -30 206Q0 230 40 206Q70 220 100 195M-68 215V280Q-68 345 0 345Q72 345 72 280V215M-40 345V385L0 440L40 385V345M0 440V650M-40 385Q-90 400 -115 430M40 385Q90 400 115 430"/></g><g transform="translate(910,0)"><path d="M-95 198Q-95 140 -30 132Q40 120 100 195M-95 198Q-60 222 -30 206Q0 230 40 206Q70 220 100 195M-68 215V280Q-68 345 0 345Q72 345 72 280V215M-40 345V385L0 440L40 385V345M0 440V650M-40 385Q-90 400 -115 430M40 385Q90 400 115 430"/></g><rect x="118" y="865" width="1202" height="115"/></g></g><g transform="translate(595,770) scale(0.05658)">
<path d="M272 335H470L525 250Q535 243 550 243H760Q775 243 785 250L840 335H1035Q1075 335 1075 375V840Q1075 880 1035 880H272Q232 880 232 840V375Q232 335 272 335Z" fill="#000"/>
<rect x="325" y="262" width="95" height="36" rx="18" fill="#000"/>
<circle cx="650" cy="595" r="195" fill="none" stroke="#fff" stroke-width="68"/><circle cx="945" cy="430" r="36" fill="#fff"/>
</g><g transform="translate(130,895) scale(0.07072)">
<circle cx="655" cy="645" r="555" fill="none" stroke="#1a0f0a" stroke-width="17"/>
<g fill="#000">
<path d="M415 440Q395 360 470 315Q520 265 600 262Q690 255 735 330Q775 380 755 470L735 520L440 520Z"/>
<ellipse cx="590" cy="525" rx="152" ry="168" stroke="#ffa733" stroke-width="9"/>
<path d="M415 440Q395 360 470 315Q520 265 600 262Q690 255 735 330Q775 380 755 470Q740 400 700 375Q640 400 590 400Q520 395 470 380Q440 400 430 470Z"/>
<rect x="535" y="680" width="115" height="100"/>
<path d="M325 1000V850Q330 770 420 765H760V1000Z"/>
</g>
<path d="M470 765Q590 890 705 765" fill="none" stroke="#ffa733" stroke-width="10"/>
<path d="M320 928H418V1005" fill="none" stroke="#ffa733" stroke-width="10"/>
<circle cx="855" cy="895" r="138" fill="#000" stroke="#ffa733" stroke-width="10"/>
<path d="M880 960V828L945 812" fill="none" stroke="#ffa733" stroke-width="12"/><circle cx="848" cy="960" r="30" fill="none" stroke="#ffa733" stroke-width="12"/>
</g><g transform="translate(180,1328) scale(0.05658)">
<g fill="none" stroke="#1a0508" stroke-width="52" stroke-linecap="round" stroke-linejoin="round">
<path d="M155 185L285 190Q320 195 325 235L400 835"/>
<path d="M352 365H1180Q1215 365 1208 400L1155 740Q1150 770 1115 772L410 822"/>
<path d="M400 835Q360 900 385 935Q400 965 440 965H1165"/>
<path d="M372 505H1190M392 650H1168M520 370L545 810M695 370L705 800M870 370L868 790M1040 370L1025 778" stroke-width="44"/>
<circle cx="520" cy="1100" r="60" stroke-width="42"/><circle cx="1075" cy="1100" r="60" stroke-width="42"/>
</g>
</g><g transform="translate(910,1125) scale(0.13437)">
<g fill="#000"><circle cx="200" cy="130" r="46"/><circle cx="405" cy="130" r="46"/>
<rect x="128" y="200" width="142" height="158" rx="20"/><rect x="158" y="340" width="86" height="182" rx="16"/>
<rect x="335" y="200" width="142" height="85" rx="16"/></g>
<path d="M65 520V281H538V520" fill="none" stroke="#000" stroke-width="15"/>
</g><defs><radialGradient id="wcg" cx="0.55" cy="0.8" r="0.9"><stop offset="0" stop-color="#7fabe2"/><stop offset="0.55" stop-color="#5380c0"/><stop offset="1" stop-color="#44699f"/></radialGradient></defs><rect x="1041" y="1254.5" width="66" height="66" rx="7" fill="#000" opacity="0.13"/><rect x="1039.5" y="1256" width="69" height="66" rx="8" fill="#000" opacity="0.06"/><rect x="1040.4" y="1252.3" width="66.5" height="66" rx="6.5" fill="#fff" stroke="#4a73b5" stroke-width="0.8"/><rect x="1044.3" y="1256.7" width="58.2" height="57.6" rx="4.2" fill="url(#wcg)"/><g transform="translate(1020,1240) scale(0.14144)">
<circle cx="345" cy="210" r="43" fill="#fff"/>
<g fill="none" stroke="#fff" stroke-width="26" stroke-linejoin="miter"><path d="M347 245L362 365H468L498 412L528 420"/><path d="M350 285H462"/>
<path d="M300 318A90 90 0 1 0 449 402"/></g>
</g><rect x="1035" y="1417" width="57" height="89" rx="5.5" fill="#3170d4"/><g transform="translate(1025,1405) scale(0.125)">
<g fill="#fff"><circle cx="305" cy="205" r="58"/>
<path d="M262 285H350Q375 285 384 310L432 445Q436 462 420 467Q406 470 400 455L365 355V500H247V355L212 455Q206 470 192 467Q176 462 180 445L228 310Q237 285 262 285Z"/>
<rect x="247" y="480" width="50" height="150" rx="8"/><rect x="315" y="480" width="50" height="150" rx="8"/></g>
</g><rect x="1035" y="1553.2" width="58.7" height="90" rx="5.5" fill="#ff4596"/><g transform="translate(1025,1405) scale(0.125)">
<g fill="#fff"><circle cx="312" cy="1288" r="58"/>
<path d="M275 1368H350Q372 1368 380 1390L436 1530Q440 1546 426 1551Q412 1554 406 1540L365 1445L400 1612H228L262 1445L218 1540Q212 1554 198 1551Q184 1546 188 1530L244 1390Q252 1368 275 1368Z"/>
<rect x="262" y="1600" width="40" height="125" rx="8"/><rect x="324" y="1600" width="40" height="125" rx="8"/></g>
</g><text x="1051.85" y="1497" font-size="10.5" font-weight="bold" fill="#fff">MEN</text><text x="1043.29" y="1635" font-size="10.5" font-weight="bold" fill="#fff">WOMEN</text><defs><g id="elev"><rect x="1.9" y="22.7" width="27.6" height="27.9" rx="2.6" fill="#fff" stroke="#000" stroke-width="3.8"/><path d="M7.8 15.6V3.8M2.7 8.6L7.8 3.2L12.9 8.6M23.7 2.8V14.6M18.6 9.4L23.7 15.2L28.8 9.4" fill="none" stroke="#000" stroke-width="3.6" stroke-linecap="round" stroke-linejoin="round"/><g fill="#000"><circle cx="8.6" cy="30.2" r="1.5"/><circle cx="15.6" cy="30.2" r="1.5"/><circle cx="22.6" cy="30.2" r="1.5"/><path d="M5.7 32.4h5.8v6.8h-1v9h-1.3v-9h-1.2v9h-1.3v-9h-1zM12.7 32.4h5.8v6.8h-1v9h-1.3v-9h-1.2v9h-1.3v-9h-1zM19.7 32.4h5.8v6.8h-1v9h-1.3v-9h-1.2v9h-1.3v-9h-1z"/></g></g></defs><use href="#elev" x="1148" y="1395.7"/><use href="#elev" x="1148" y="1470.6"/><use href="#elev" x="1148" y="1533.7"/><use href="#elev" x="1148" y="1610.4"/><use href="#elev" x="1317.3" y="1395.7"/><use href="#elev" x="1317.3" y="1467.2"/><use href="#elev" x="1317.3" y="1538.9"/><use href="#elev" x="1317.3" y="1610.4"/><path d="M933.5 1610.6H970.5M977.5 1610.6H1018M933.5 1616.8H970.5M977.5 1616.8H1018M933.5 1623.1H970.5M977.5 1623.1H1018M933.5 1629.3H970.5M977.5 1629.3H1018M933.5 1635.6H970.5M977.5 1635.6H1018M933.5 1641.8H970.5M977.5 1641.8H1018M933.5 1648.1H970.5M977.5 1648.1H1018M933.5 1654.3H970.5M977.5 1654.3H1018M933.5 1660.6H970.5M977.5 1660.6H1018M933.5 1666.8H970.5M977.5 1666.8H1018M933.5 1673.0H970.5M977.5 1673.0H1018M933.5 1679.3H970.5M977.5 1679.3H1018M970.7 1610.6V1679.3M977.3 1610.6V1679.3" fill="none" stroke="#666" stroke-width="0.9"/><path d="M949.3 1661V1592H999.5V1662" fill="none" stroke="#222" stroke-width="0.9"/><path d="M945.8 1660.5h7l-3.5 6.3z" fill="#222"/><circle cx="999.5" cy="1664" r="2.7" fill="#222"/><path d="M1080.8 1336V1340.5M1080.8 1339.7A32.5 32.5 0 0 0 1047.6 1370.8H1080.8V1378" fill="none" stroke="#000" stroke-width="1.1"/><path d="M1029 1680.8H1034.3V1656A25.5 25.5 0 0 1 1060.3 1680.8H1066" fill="none" stroke="#000" stroke-width="1.1"/><path d="M1021.7 1695V1702.5A31.8 31.8 0 0 0 989.3 1733.7H1021.7V1738" fill="none" stroke="#000" stroke-width="1.1"/><path d="M1096.3 1744.5V1776.4A31.8 31.8 0 0 1 1064.8 1744.5" fill="none" stroke="#000" stroke-width="1.1"/><path d="M135.3 1827.4V1866.4A39 39 0 0 0 174.3 1827.4M128 1827.6H140M172 1827.6H182" fill="none" stroke="#111" stroke-width="1.3"/><rect x="191.1" y="1839.2" width="66.9" height="66.8" fill="#167a47"/><g transform="translate(120,1820) scale(0.11315)">
<path d="M778 200H1092V722H725L778 662Z" fill="#fff"/>
<path d="M955 722L1000 672H1045L1000 722Z" fill="#167a47"/>
<g fill="none" stroke="#167a47" stroke-linejoin="miter"><path d="M935 335L905 480" stroke-width="62"/><path d="M945 345L1005 402H1078" stroke-width="30"/>
<path d="M925 337H845L808 392" stroke-width="28"/><path d="M905 470L960 560L1012 640" stroke-width="42"/><path d="M885 470L872 545H765L732 575" stroke-width="32"/></g>
<circle cx="960" cy="265" r="41" fill="#167a47"/>
</g><g transform="translate(585,1845) scale(0.11315)">
<g fill="#25292c"><rect x="540" y="375" width="698" height="453"/><rect x="505" y="855" width="733" height="138"/><rect x="1230" y="965" width="32" height="22" rx="4"/>
<rect x="438" y="472" width="30" height="45" rx="12"/>
<path d="M108 993V740L228 532Q242 508 275 508H490Q505 508 505 523V993Z"/></g>
<path d="M180 690L258 562H432V772L195 830L180 815Z" fill="#fff"/>
<circle cx="305" cy="993" r="103" fill="#fff"/><circle cx="1045" cy="993" r="103" fill="#fff"/>
<circle cx="305" cy="993" r="85" fill="#25292c"/><circle cx="1045" cy="993" r="85" fill="#25292c"/>
</g><g transform="translate(1100,200) scale(0.22207)">
<g fill="#000"><circle cx="740" cy="168" r="34"/><path d="M690 280Q690 215 740 212Q795 215 798 270V280Z"/></g>
<g fill="#000" stroke="#fff" stroke-width="6"><circle cx="688" cy="205" r="38"/><path d="M630 310V280Q632 245 688 243Q742 245 745 280V310Z"/></g>
</g><rect x="1296" y="241.2" width="16.8" height="16.8" rx="2" fill="#3b8ed2"/><path d="M1299.2 249.6L1304.6 244.6V247.8H1310V251.4H1304.6V254.6Z" fill="#fff"/><defs><g id="mpl" transform="translate(0,9)"><path d="M0 -52L7 -35L17 -41L15 -15L28 -29L32 -19L47 -25L42 -8L51 -2L34 11L38 21L21 18L25 30L5 18L2.5 21L-2.5 21L-5 18L-25 30L-21 18L-38 21L-34 11L-51 -2L-42 -8L-47 -25L-32 -19L-28 -29L-15 -15L-17 -41L-7 -35Z"/><path d="M0 15L1.5 38" fill="none" stroke="#b5654a" stroke-width="2.2" stroke-linecap="round"/><path d="M0 17L0 -40M0 17L36 -20M0 17L-36 -20M0 17L38 -2M0 17L-38 -2" fill="none" stroke="#b5654a" stroke-opacity="0.45" stroke-width="1.1"/></g><g id="slf"><path d="M0 0C14 -26 58 -30 100 -4C86 2 84 6 72 8C66 14 56 12 48 18C40 17 30 20 22 16C12 14 4 8 0 0Z"/><path d="M0 0L-18 3" fill="none" stroke-width="4" stroke-linecap="round"/></g></defs><g><use href="#mpl" fill="#f4dba2" transform="translate(54.25,80.91) rotate(245) scale(0.441)"/><use href="#mpl" fill="#e2560f" transform="translate(17.47,136.08) rotate(40) scale(0.309)"/><use href="#mpl" fill="#fba412" transform="translate(53.33,136.08) rotate(220) scale(0.419)"/><use href="#mpl" fill="#e2560f" transform="translate(95.62,103.9) rotate(200) scale(0.188)"/><use href="#mpl" fill="#f4dba2" transform="translate(88.27,142.52) rotate(280) scale(0.166)"/><use href="#mpl" fill="#f4dba2" transform="translate(111.62,139.21) rotate(350) scale(0.132)"/><use href="#mpl" fill="#fba412" transform="translate(126.88,128.72) rotate(210) scale(0.110)"/><use href="#mpl" fill="#e2560f" transform="translate(99.3,174.7) rotate(215) scale(0.375)"/><use href="#mpl" fill="#f4dba2" transform="translate(40.82,192.17) rotate(185) scale(0.287)"/><use href="#mpl" fill="#fba412" transform="translate(128.72,199.52) rotate(35) scale(0.331)"/><use href="#mpl" fill="#fba412" transform="translate(140.68,48.73) rotate(180) scale(0.287)"/><use href="#mpl" fill="#e2560f" transform="translate(141.04,92.87) rotate(150) scale(0.188)"/><use href="#mpl" fill="#f4dba2" transform="translate(164.21,93.42) rotate(190) scale(0.143)"/><use href="#mpl" fill="#fba412" transform="translate(166.42,117.69) rotate(160) scale(0.232)"/><use href="#mpl" fill="#e2560f" transform="translate(141.6,146.19) rotate(160) scale(0.110)"/><use href="#mpl" fill="#e2560f" transform="translate(160.9,147.11) rotate(30) scale(0.232)"/><use href="#mpl" fill="#f4dba2" transform="translate(175.62,68.04) rotate(255) scale(0.309)"/><use href="#mpl" fill="#e2560f" transform="translate(186.1,36.78) rotate(210) scale(0.154)"/><use href="#mpl" fill="#e2560f" transform="translate(204.12,109.42) rotate(35) scale(0.287)"/><use href="#mpl" fill="#e2560f" transform="translate(205.04,71.72) rotate(160) scale(0.110)"/><use href="#mpl" fill="#fba412" transform="translate(219.2,73.56) rotate(200) scale(0.177)"/><use href="#mpl" fill="#fba412" transform="translate(214.23,46.89) rotate(180) scale(0.077)"/><use href="#mpl" fill="#f4dba2" transform="translate(223.98,48.73) rotate(200) scale(0.110)"/><use href="#mpl" fill="#fba412" transform="translate(213.31,19.31) rotate(280) scale(0.232)"/><use href="#mpl" fill="#e2560f" transform="translate(236.67,23.91) rotate(20) scale(0.232)"/><use href="#mpl" fill="#f4dba2" transform="translate(206.33,-4.05) rotate(370) scale(0.121)"/><use href="#mpl" fill="#fba412" transform="translate(184.81,-5.15) rotate(350) scale(0.106)"/></g><g transform="translate(1409.5,6.8) scale(-1,1)"><use href="#mpl" fill="#f4dba2" transform="translate(54.25,80.91) rotate(245) scale(0.441)"/><use href="#mpl" fill="#e2560f" transform="translate(17.47,136.08) rotate(40) scale(0.309)"/><use href="#mpl" fill="#fba412" transform="translate(53.33,136.08) rotate(220) scale(0.419)"/><use href="#mpl" fill="#e2560f" transform="translate(95.62,103.9) rotate(200) scale(0.188)"/><use href="#mpl" fill="#f4dba2" transform="translate(88.27,142.52) rotate(280) scale(0.166)"/><use href="#mpl" fill="#f4dba2" transform="translate(111.62,139.21) rotate(350) scale(0.132)"/><use href="#mpl" fill="#fba412" transform="translate(126.88,128.72) rotate(210) scale(0.110)"/><use href="#mpl" fill="#e2560f" transform="translate(99.3,174.7) rotate(215) scale(0.375)"/><use href="#mpl" fill="#f4dba2" transform="translate(40.82,192.17) rotate(185) scale(0.287)"/><use href="#mpl" fill="#fba412" transform="translate(128.72,199.52) rotate(35) scale(0.331)"/><use href="#mpl" fill="#fba412" transform="translate(140.68,48.73) rotate(180) scale(0.287)"/><use href="#mpl" fill="#e2560f" transform="translate(141.04,92.87) rotate(150) scale(0.188)"/><use href="#mpl" fill="#f4dba2" transform="translate(164.21,93.42) rotate(190) scale(0.143)"/><use href="#mpl" fill="#fba412" transform="translate(166.42,117.69) rotate(160) scale(0.232)"/><use href="#mpl" fill="#e2560f" transform="translate(141.6,146.19) rotate(160) scale(0.110)"/><use href="#mpl" fill="#e2560f" transform="translate(160.9,147.11) rotate(30) scale(0.232)"/><use href="#mpl" fill="#f4dba2" transform="translate(175.62,68.04) rotate(255) scale(0.309)"/><use href="#mpl" fill="#e2560f" transform="translate(186.1,36.78) rotate(210) scale(0.154)"/><use href="#mpl" fill="#e2560f" transform="translate(204.12,109.42) rotate(35) scale(0.287)"/><use href="#mpl" fill="#e2560f" transform="translate(205.04,71.72) rotate(160) scale(0.110)"/><use href="#mpl" fill="#fba412" transform="translate(219.2,73.56) rotate(200) scale(0.177)"/><use href="#mpl" fill="#fba412" transform="translate(214.23,46.89) rotate(180) scale(0.077)"/><use href="#mpl" fill="#f4dba2" transform="translate(223.98,48.73) rotate(200) scale(0.110)"/><use href="#mpl" fill="#fba412" transform="translate(213.31,19.31) rotate(280) scale(0.232)"/><use href="#mpl" fill="#e2560f" transform="translate(236.67,23.91) rotate(20) scale(0.232)"/><use href="#mpl" fill="#f4dba2" transform="translate(206.33,-4.05) rotate(370) scale(0.121)"/><use href="#mpl" fill="#fba412" transform="translate(184.81,-5.15) rotate(350) scale(0.106)"/></g><g><use href="#slf" fill="#b9260c" stroke="#7a1c0a" transform="translate(64.98,1865.18) rotate(158) scale(0.233,0.268)"/><use href="#slf" fill="#f98b2b" stroke="#7a1c0a" transform="translate(77.28,1892.05) rotate(8) scale(0.304,0.350)"/><use href="#slf" fill="#f5c914" stroke="#f5c914" transform="translate(69.22,1911.43) rotate(62) scale(0.233,0.268)"/><use href="#slf" fill="#b9260c" stroke="#7a1c0a" transform="translate(36.69,1925.57) rotate(78) scale(0.389,0.447)"/><use href="#slf" fill="#f98b2b" stroke="#7a1c0a" transform="translate(99.92,1949.62) rotate(28) scale(0.332,0.382)"/><use href="#slf" fill="#b9260c" stroke="#7a1c0a" transform="translate(152.25,1939.01) rotate(175) scale(0.184,-0.211)"/><use href="#slf" fill="#f98b2b" stroke="#7a1c0a" transform="translate(198.5,1945.37) rotate(168) scale(0.170,-0.195)"/></g><g transform="translate(1358.4,0) scale(-1,1)"><use href="#slf" fill="#b9260c" stroke="#7a1c0a" transform="translate(64.98,1865.18) rotate(158) scale(0.233,0.268)"/><use href="#slf" fill="#f98b2b" stroke="#7a1c0a" transform="translate(77.28,1892.05) rotate(8) scale(0.304,0.350)"/><use href="#slf" fill="#f5c914" stroke="#f5c914" transform="translate(69.22,1911.43) rotate(62) scale(0.233,0.268)"/><use href="#slf" fill="#b9260c" stroke="#7a1c0a" transform="translate(36.69,1925.57) rotate(78) scale(0.389,0.447)"/><use href="#slf" fill="#f98b2b" stroke="#7a1c0a" transform="translate(99.92,1949.62) rotate(28) scale(0.332,0.382)"/><use href="#slf" fill="#b9260c" stroke="#7a1c0a" transform="translate(152.25,1939.01) rotate(175) scale(0.184,-0.211)"/><use href="#slf" fill="#f98b2b" stroke="#7a1c0a" transform="translate(198.5,1945.37) rotate(168) scale(0.170,-0.195)"/></g><defs><g id="jmp"><path d="M-2.9 31.8L-26.7 41.0L-23.9 20.5L-42.4 11.0L-25.5 -1.0L-36.6 -26.1L-10.8 -16.8L0.0 -42.0L10.8 -16.8L36.6 -26.1L25.5 -1.0L42.4 11.0L23.9 20.5L26.7 41.0L7.2 34.0Z" fill="#f05b36"/><path d="M0 -30L0 22L-4 55" fill="none" stroke="#a8452c" stroke-width="2"/></g></defs><use href="#jmp" transform="translate(582.9,1737.7) rotate(35) scale(0.290)"/><use href="#jmp" transform="translate(548,1760.6) rotate(70) scale(0.280)"/><use href="#jmp" transform="translate(581.1,1774.3) rotate(85) scale(0.270)"/><g transform="translate(520,1700) scale(0.25458)">
<defs><linearGradient id="oak" x1="0" y1="0" x2="1" y2="0"><stop offset="0" stop-color="#ee9a2e"/><stop offset="1" stop-color="#f6b04a"/></linearGradient></defs>
<path d="M1150 385Q1190 350 1215 375Q1225 330 1262 345Q1272 300 1312 322Q1335 290 1358 303Q1368 330 1350 355Q1365 380 1335 392Q1345 420 1305 415Q1300 440 1265 425Q1240 445 1225 415Q1190 430 1150 385Z" fill="url(#oak)"/>
<path d="M1120 350Q1150 390 1225 385" fill="none" stroke="#c97a1e" stroke-width="7" stroke-linecap="round"/>
<g><ellipse cx="1203" cy="312" rx="19" ry="22" fill="#a4552a"/><path d="M1178 300Q1176 280 1198 278Q1222 280 1224 300Q1200 312 1178 300Z" fill="#ead9b8"/>
<ellipse cx="1140" cy="418" rx="22" ry="21" fill="#a4552a"/><path d="M1150 390Q1172 395 1170 415Q1160 422 1140 398Z" fill="#ead9b8"/>
<ellipse cx="1200" cy="430" rx="19" ry="21" fill="#a4552a"/><path d="M1178 418Q1176 400 1198 398Q1222 400 1222 416Q1200 426 1178 418Z" fill="#ead9b8"/></g>
</g>
</svg>
</body></html>
